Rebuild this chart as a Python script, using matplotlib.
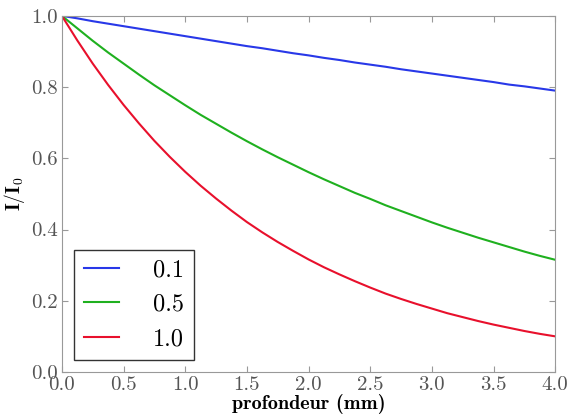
import matplotlib
matplotlib.use("Agg")
import matplotlib.pyplot as plt

# profondeur (mm) et intensité relue sur la figure
depth = [0.0, 0.125, 0.25, 0.375, 0.5, 0.625, 0.75, 0.875, 1.0,
         1.125, 1.25, 1.375, 1.5, 1.625, 1.75, 1.875, 2.0,
         2.125, 2.25, 2.375, 2.5, 2.625, 2.75, 2.875, 3.0,
         3.125, 3.25, 3.375, 3.5, 3.625, 3.75, 3.875, 4.0]
i_01 = [1.000, 0.993, 0.985, 0.978, 0.971, 0.964, 0.957, 0.950, 0.943,
        0.936, 0.929, 0.922, 0.915, 0.909, 0.902, 0.895, 0.889,
        0.882, 0.876, 0.869, 0.863, 0.857, 0.850, 0.844, 0.838,
        0.832, 0.826, 0.820, 0.814, 0.807, 0.802, 0.796, 0.790]
i_05 = [1.000, 0.965, 0.930, 0.897, 0.866, 0.835, 0.805, 0.777, 0.749,
        0.722, 0.697, 0.672, 0.648, 0.625, 0.603, 0.582, 0.561,
        0.541, 0.522, 0.503, 0.486, 0.468, 0.452, 0.436, 0.420,
        0.405, 0.391, 0.377, 0.364, 0.351, 0.338, 0.326, 0.315]
i_10 = [1.000, 0.931, 0.866, 0.806, 0.750, 0.698, 0.649, 0.604, 0.562,
        0.523, 0.487, 0.453, 0.421, 0.392, 0.365, 0.340, 0.316,
        0.294, 0.274, 0.255, 0.237, 0.220, 0.205, 0.191, 0.178,
        0.165, 0.154, 0.143, 0.133, 0.124, 0.115, 0.107, 0.100]
labels = ["0.1", "0.5", "1.0"]
colors = ["#2838e8", "#1fb01f", "#e8102c"]

plt.rcParams["font.family"] = "cmr10"
plt.rcParams["mathtext.fontset"] = "cm"
plt.rcParams["axes.formatter.use_mathtext"] = True

fig = plt.figure(figsize=(5.73, 4.17), dpi=100)
ax = fig.add_axes([0.108, 0.108, 0.861, 0.854])

for y, lab, c in zip([i_01, i_05, i_10], labels, colors):
    ax.plot(depth, y, color=c, lw=1.5, label=lab)

ax.set_xlim(0, 4)
ax.set_ylim(0, 1)
ax.set_xticks([0, 0.5, 1, 1.5, 2, 2.5, 3, 3.5, 4])
ax.set_yticks([0, 0.2, 0.4, 0.6, 0.8, 1.0])
ax.set_xticklabels(["0.0", "0.5", "1.0", "1.5", "2.0", "2.5", "3.0", "3.5", "4.0"])
ax.set_yticklabels(["0.0", "0.2", "0.4", "0.6", "0.8", "1.0"])
ax.tick_params(direction="in", top=True, right=True, length=4, color="#999999",
               labelsize=15, labelcolor="#555555", pad=3)
for s in ax.spines.values():
    s.set_color("#999999")

ax.set_xlabel("profondeur (mm)", fontsize=14.5, fontfamily="cmb10", labelpad=0)
ax.set_ylabel(r"$\mathbf{I/I_0}$", fontsize=14, labelpad=3)

leg = ax.legend(loc="lower left", fontsize=17.5, fancybox=False, framealpha=1,
                edgecolor="#333333", handlelength=1.45, borderpad=0.4,
                labelspacing=0.5, handletextpad=1.4, borderaxespad=0.5)
leg.get_frame().set_linewidth(1.0)

fig.savefig("out.png", dpi=100)
